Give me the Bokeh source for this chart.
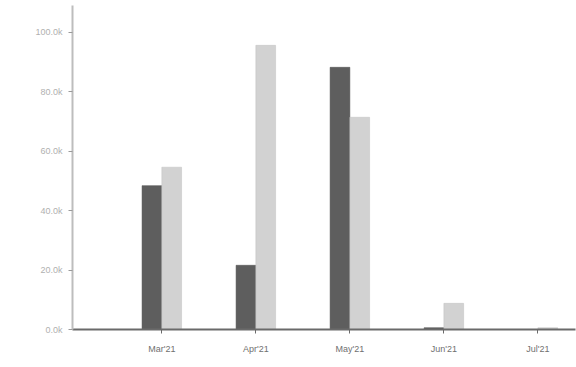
from bokeh.plotting import figure
from bokeh.models import ColumnDataSource, FixedTicker, Range1d
from bokeh.transform import dodge
from bokeh.embed import file_html
from bokeh.resources import INLINE

months = ["Mar'21", "Apr'21", "May'21", "Jun'21", "Jul'21"]
series_a = [48400, 21600, 88200, 600, 0]
series_b = [54600, 95600, 71400, 8800, 600]
y_ticks = [0, 20000, 40000, 60000, 80000, 100000]
y_tick_labels = ["0.0k", "20.0k", "40.0k", "60.0k", "80.0k", "100.0k"]

xpos = list(range(len(months)))
src = ColumnDataSource(dict(x=xpos, a=series_a, b=series_b))

p = figure(width=576, height=360, output_backend="svg", toolbar_location=None,
           x_range=Range1d(-0.95, 4.4), y_range=Range1d(0, 109000),
           min_border_left=72, min_border_right=1, min_border_top=5, min_border_bottom=31)
p.outline_line_color = None
p.xgrid.grid_line_color = None
p.ygrid.grid_line_color = None

p.vbar(x=dodge('x', -0.105, range=p.x_range), top='a', width=0.21, source=src,
       fill_color="#5e5e5e", line_color="#4a4a4a", line_width=0.5)
p.vbar(x=dodge('x', 0.105, range=p.x_range), top='b', width=0.21, source=src,
       fill_color="#d2d2d2", line_color="#c0c0c0", line_width=0.5)

p.xaxis.ticker = FixedTicker(ticks=xpos)
p.xaxis.major_label_overrides = {i: m for i, m in zip(xpos, months)}
p.xaxis.minor_tick_line_color = None
p.xaxis.axis_line_color = "#6a6a6a"
p.xaxis.axis_line_width = 2
p.xaxis.major_tick_line_color = "#6a6a6a"
p.xaxis.major_tick_out = 4
p.xaxis.major_tick_in = 0
p.xaxis.major_label_text_font = "Liberation Sans"
p.xaxis.major_label_text_font_size = "9px"
p.xaxis.major_label_text_color = "#707070"
p.xaxis.major_label_standoff = 10

p.yaxis.ticker = FixedTicker(ticks=y_ticks)
p.yaxis.major_label_overrides = {t: l for t, l in zip(y_ticks, y_tick_labels)}
p.yaxis.minor_tick_line_color = None
p.yaxis.axis_line_color = "#bdbdbd"
p.yaxis.axis_line_width = 2
p.yaxis.major_tick_line_color = "#9a9a9a"
p.yaxis.major_tick_out = 4
p.yaxis.major_tick_in = 0
p.yaxis.major_label_text_font = "Liberation Sans"
p.yaxis.major_label_text_font_size = "9px"
p.yaxis.major_label_text_color = "#b0b0b0"
p.yaxis.major_label_standoff = 6

open("out.html", "w").write(file_html(p, INLINE))
